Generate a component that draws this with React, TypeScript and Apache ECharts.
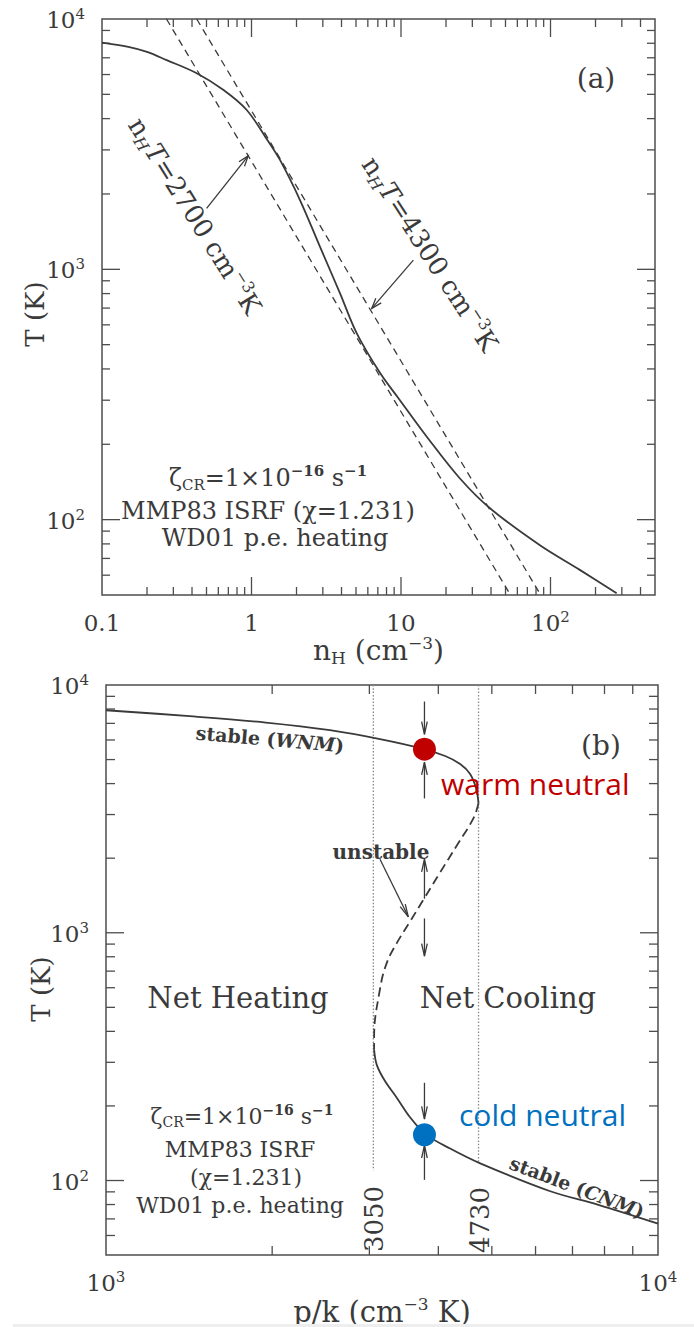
import React, { useEffect, useRef } from 'react';
import * as echarts from 'echarts';

const SERIF = 'DejaVu Serif';
const INK = '#3a3a3a';
const AXIS = '#4d4d4d';

// ---------------- Panel (a): T vs n_H ----------------
const curveA_n = [0.1, 0.15, 0.2, 0.271, 0.43, 0.65, 0.929, 1.25, 1.55, 2.11, 2.87, 3.91, 5.06, 7.25, 9.64, 15, 24.8, 39.4, 85, 157, 277];
const curveA_T = [8050, 7740, 7390, 6850, 6070, 5200, 4330, 3350, 2735, 1892, 1231, 802, 555, 385, 305, 213, 146, 111, 79, 63, 50.8];
const iso2700_n = [0.27, 54];
const iso2700_T = [10000, 50];
const iso4300_n = [0.43, 86];
const iso4300_T = [10000, 50];
// arrows: [x_tail, y_tail, x_head, y_head]
const arrowsA = [
  [0.501, 1753, 0.95, 2840],
  [12.1, 1089, 6.37, 698],
];
const xTickValsA = [0.1, 1, 10, 100];
const xTickTextsA = ['0.1', '1', '10', '10^2'];
const yTickVals = [100, 1000, 10000];
const yTickTexts = ['10^2', '10^3', '10^4'];

// ---------------- Panel (b): T vs p/k ----------------
const wnm_p = [1000, 1418, 1948, 2545, 3136, 3753, 4116, 4381, 4567, 4683, 4730];
const wnm_T = [7910, 7485, 7053, 6573, 6050, 5526, 5169, 4795, 4374, 3819, 3330];
const unst_p = [4730, 4632, 4321, 4030, 3758, 3555, 3363, 3226, 3136, 3060, 3060];
const unst_T = [3330, 2901, 2251, 1752, 1359, 1111, 908, 756, 593, 379, 337];
const cnm_p = [3060, 3094, 3202, 3363, 3555, 3795, 4201, 4763, 6381, 7798, 10000];
const cnm_T = [337, 293, 252, 216, 180, 153.5, 134.6, 117.3, 90.5, 79.8, 67];
const isobar_p = [3050, 4730];
const isobar_topT = [10000, 10000];
const isobar_botT = [110, 117];
const isobar_texts = ['3050', '4730'];
const phase_p = [3775, 3775];
const phase_T = [5510, 153];
const phase_colors = ['#c00000', '#0070c0'];
const arrowsB = [
  [3775, 8580, 3775, 6320],
  [3775, 3484, 3775, 4877],
  [3775, 1372, 3775, 1980],
  [3775, 1142, 3775, 804],
  [3775, 248, 3775, 177],
  [3775, 100.6, 3775, 138.7],
  [3136, 1980, 3529, 1160],
];
const xTickValsB = [1000, 10000];
const xTickTextsB = ['10^3', '10^4'];

// ---------------- helpers ----------------
const zip = (a: number[], b: number[]) => a.map((v, i) => [v, b[i]]);

const toRich = (t: string) => {
  const i = t.indexOf('^');
  if (i < 0) return `{b|${t}}`;
  return `{b|${t.slice(0, i)}}{s|${t.slice(i + 1)}}`;
};

const labelFmt = (vals: number[], texts: string[]) => (v: number) => {
  const lv = Math.log10(v);
  for (let i = 0; i < vals.length; i++) {
    if (Math.abs(Math.log10(vals[i]) - lv) < 1e-6) return toRich(texts[i]);
  }
  return '';
};

const axisRich = {
  b: { fontSize: 23, fontFamily: SERIF, color: INK, lineHeight: 25, verticalAlign: 'bottom' },
  s: { fontSize: 15, fontFamily: SERIF, color: INK, lineHeight: 15, verticalAlign: 'top' },
};

const nameRich = (s: number) => ({
  n: { fontSize: s, fontFamily: SERIF, color: INK, lineHeight: Math.round(s * 1.15) },
  sub: { fontSize: Math.round(s * 0.6), fontFamily: SERIF, color: INK, lineHeight: Math.round(s * 0.6), verticalAlign: 'bottom' },
  sup: { fontSize: Math.round(s * 0.6), fontFamily: SERIF, color: INK, lineHeight: Math.round(s * 0.6), verticalAlign: 'top' },
});

const minorsIn = (lo: number, hi: number) => {
  const out: number[] = [];
  for (let k = -2; k <= 5; k++) {
    for (let m = 2; m <= 9; m++) {
      const v = m * Math.pow(10, k);
      if (v > lo * 1.0001 && v < hi * 0.9999) out.push(v);
    }
  }
  return out;
};
const majorsIn = (lo: number, hi: number) => {
  const out: number[] = [];
  for (let k = -2; k <= 5; k++) {
    const v = Math.pow(10, k);
    if (v > lo * 1.0001 && v < hi * 0.9999) out.push(v);
  }
  return out;
};

const tickData = (xlo: number, xhi: number, ylo: number, yhi: number) => {
  const d: number[][] = [];
  minorsIn(xlo, xhi).forEach((v) => d.push([v, ylo, 0]));
  majorsIn(xlo, xhi).forEach((v) => d.push([v, ylo, 1]));
  minorsIn(ylo, yhi).forEach((v) => d.push([xlo, v, 2]));
  majorsIn(ylo, yhi).forEach((v) => d.push([xlo, v, 3]));
  return d;
};

const tickRender = (minorLen: number, majorLen: number) => (params: any, api: any) => {
  const cs = params.coordSys;
  const kind = api.value(2);
  const L = kind === 1 || kind === 3 ? majorLen : minorLen;
  const style = { stroke: AXIS, lineWidth: 1.3 };
  const pt = api.coord([api.value(0), api.value(1)]);
  if (kind < 2) {
    const px = pt[0];
    const b = cs.y + cs.height;
    return {
      type: 'group',
      children: [
        { type: 'line', shape: { x1: px, y1: b, x2: px, y2: b - L }, style },
        { type: 'line', shape: { x1: px, y1: cs.y, x2: px, y2: cs.y + L }, style },
      ],
    };
  }
  const py = pt[1];
  const r = cs.x + cs.width;
  return {
    type: 'group',
    children: [
      { type: 'line', shape: { x1: cs.x, y1: py, x2: cs.x + L, y2: py }, style },
      { type: 'line', shape: { x1: r, y1: py, x2: r - L, y2: py }, style },
    ],
  };
};

const arrowRender = (headLen: number, half: number) => (params: any, api: any) => {
  const a = api.coord([api.value(0), api.value(1)]);
  const b = api.coord([api.value(2), api.value(3)]);
  const ang = Math.atan2(b[1] - a[1], b[0] - a[0]);
  const h1 = [b[0] - headLen * Math.cos(ang - half), b[1] - headLen * Math.sin(ang - half)];
  const h2 = [b[0] - headLen * Math.cos(ang + half), b[1] - headLen * Math.sin(ang + half)];
  const style = { stroke: INK, lineWidth: 1.3, fill: 'none' };
  return {
    type: 'group',
    children: [
      { type: 'line', shape: { x1: a[0], y1: a[1], x2: b[0], y2: b[1] }, style },
      { type: 'polyline', shape: { points: [h1, b, h2] }, style },
    ],
  };
};

const tok = (size: number, extra: any = {}) => ({
  fontSize: size,
  fontFamily: SERIF,
  fill: INK,
  lineHeight: Math.round(size * 1.2),
  ...extra,
});
const supTok = (size: number, extra: any = {}) => tok(size, { lineHeight: size, verticalAlign: 'top', ...extra });
const subTok = (size: number, extra: any = {}) => tok(size, { lineHeight: size, verticalAlign: 'bottom', ...extra });

const gText = (x: number, y: number, text: string, size: number, opts: any = {}) => ({
  type: 'text',
  x,
  y,
  rotation: ((opts.rotDeg || 0) * Math.PI) / 180,
  z: 50,
  silent: true,
  style: {
    text,
    fontSize: size,
    fontFamily: opts.family || SERIF,
    fontWeight: opts.weight || 'normal',
    fill: opts.color || INK,
    align: opts.align || 'center',
    verticalAlign: 'middle',
    rich: opts.rich,
  },
});

const zetaRich = (s: number) => ({
  n: tok(s),
  sub: subTok(Math.round(s * 0.62)),
  sup: supTok(Math.round(s * 0.62), { fontWeight: 'bold' }),
});
const zetaText = '{n|ζ}{sub|CR}{n|=1×10}{sup|−16}{n| s}{sup|−1}';

const isoRich = {
  n: tok(26),
  sub: subTok(16, { fontStyle: 'italic' }),
  it: tok(26, { fontStyle: 'italic' }),
  sup: supTok(16),
};

const stableRich = {
  n: tok(19, { fontWeight: 'bold' }),
  it: tok(19, { fontWeight: 'bold', fontStyle: 'italic' }),
};

const xAxisBase = (gridIndex: number, min: number, max: number, vals: number[], texts: string[], name: string, ns: number) => ({
  type: 'log',
  logBase: 10,
  gridIndex,
  min,
  max,
  axisLine: { show: false },
  axisTick: { show: false },
  splitLine: { show: false },
  axisLabel: { formatter: labelFmt(vals, texts), rich: axisRich, margin: 14, showMinLabel: true, showMaxLabel: true },
  name,
  nameLocation: 'middle',
  nameGap: 31,
  nameTextStyle: { rich: nameRich(ns) },
});

const yAxisBase = (gridIndex: number) => ({
  type: 'log',
  logBase: 10,
  gridIndex,
  min: 50,
  max: 10000,
  axisLine: { show: false },
  axisTick: { show: false },
  splitLine: { show: false },
  axisLabel: { formatter: labelFmt(yTickVals, yTickTexts), rich: axisRich, margin: 17, showMinLabel: true, showMaxLabel: true },
});

const solid = { color: INK, width: 1.8 };

export default function App() {
  const ref = useRef<HTMLDivElement>(null);

  useEffect(() => {
    document.body.style.margin = '0';
    if (!ref.current) return;
    const chart = echarts.init(ref.current, undefined, { renderer: 'svg' });

    const option: any = {
      animation: false,
      backgroundColor: '#ffffff',
      textStyle: { fontFamily: SERIF, color: INK },
      grid: [
        { left: 102, top: 19, width: 553, height: 576, show: true, borderColor: AXIS, borderWidth: 1.5, backgroundColor: 'transparent' },
        { left: 106, top: 685, width: 552, height: 578, show: true, borderColor: AXIS, borderWidth: 1.5, backgroundColor: 'transparent' },
      ],
      xAxis: [
        xAxisBase(0, 0.1, 500, xTickValsA, xTickTextsA, '{n|n}{sub|H}{n| (cm}{sup|−3}{n|)}', 28),
        xAxisBase(1, 1000, 10000, xTickValsB, xTickTextsB, '{n|p/k (cm}{sup|−3}{n| K)}', 29),
      ],
      yAxis: [yAxisBase(0), yAxisBase(1)],
      series: [
        // ----- panel (a)
        {
          type: 'line', xAxisIndex: 0, yAxisIndex: 0, data: zip(curveA_n, curveA_T),
          showSymbol: false, smooth: 0.35, lineStyle: solid, silent: true, z: 5,
        },
        {
          type: 'line', xAxisIndex: 0, yAxisIndex: 0, data: zip(iso2700_n, iso2700_T),
          showSymbol: false, lineStyle: { color: INK, width: 1.3, type: [7, 5] }, silent: true,
        },
        {
          type: 'line', xAxisIndex: 0, yAxisIndex: 0, data: zip(iso4300_n, iso4300_T),
          showSymbol: false, lineStyle: { color: INK, width: 1.3, type: [7, 5] }, silent: true,
        },
        {
          type: 'custom', xAxisIndex: 0, yAxisIndex: 0, data: arrowsA,
          encode: { x: [0, 2], y: [1, 3] }, renderItem: arrowRender(11, 0.33), silent: true, clip: false,
        },
        {
          type: 'custom', xAxisIndex: 0, yAxisIndex: 0, data: tickData(0.1, 500, 50, 10000),
          encode: { x: 0, y: 1 }, renderItem: tickRender(8, 18), silent: true, clip: false,
        },
        // ----- panel (b)
        ...isobar_p.map((p, i) => ({
          type: 'line', xAxisIndex: 1, yAxisIndex: 1, data: [[p, isobar_topT[i]], [p, isobar_botT[i]]],
          showSymbol: false, silent: true, lineStyle: { color: '#8a8a8a', width: 1.3, type: [1.5, 1.8] },
        })),
        {
          type: 'line', xAxisIndex: 1, yAxisIndex: 1, data: zip(wnm_p, wnm_T),
          showSymbol: false, smooth: 0.35, lineStyle: solid, silent: true, z: 5,
        },
        {
          type: 'line', xAxisIndex: 1, yAxisIndex: 1, data: zip(unst_p, unst_T),
          showSymbol: false, smooth: 0.4, lineStyle: { color: INK, width: 1.8, type: [9, 5] }, silent: true, z: 5,
        },
        {
          type: 'line', xAxisIndex: 1, yAxisIndex: 1, data: zip(cnm_p, cnm_T),
          showSymbol: false, smooth: 0.35, lineStyle: solid, silent: true, z: 5,
        },
        {
          type: 'custom', xAxisIndex: 1, yAxisIndex: 1, data: arrowsB,
          encode: { x: [0, 2], y: [1, 3] }, renderItem: arrowRender(13, 0.22), silent: true, clip: false,
        },
        {
          type: 'custom', xAxisIndex: 1, yAxisIndex: 1, data: tickData(1000, 10000, 50, 10000),
          encode: { x: 0, y: 1 }, renderItem: tickRender(9, 18), silent: true, clip: false,
        },
        {
          type: 'scatter', xAxisIndex: 1, yAxisIndex: 1, symbolSize: 23, z: 20, silent: true,
          data: phase_p.map((p, i) => ({ value: [p, phase_T[i]], itemStyle: { color: phase_colors[i], opacity: 1 } })),
        },
      ],
      graphic: [
        // y-axis titles
        gText(35, 314, 'T (K)', 26, { rotDeg: 90 }),
        gText(41, 989, 'T (K)', 26, { rotDeg: 90 }),
        // panel (a)
        gText(596, 78, '(a)', 28),
        gText(195, 216, '{n|n}{sub|H}{it|T}{n|=2700 cm}{sup|−3}{n|K}', 26, { rotDeg: -58, rich: isoRich }),
        gText(430, 254, '{n|n}{sub|H}{it|T}{n|=4300 cm}{sup|−3}{n|K}', 26, { rotDeg: -57, rich: isoRich }),
        gText(268, 478, zetaText, 24, { rich: zetaRich(24) }),
        gText(268, 511, 'MMP83 ISRF (χ=1.231)', 24),
        gText(275, 538, 'WD01 p.e. heating', 24),
        // panel (b)
        gText(601, 745, '(b)', 28),
        gText(270, 739, '{n|stable (}{it|WNM}{n|)}', 19, { rotDeg: -5, rich: stableRich }),
        gText(577, 1187, '{n|stable (}{it|CNM}{n|)}', 19, { rotDeg: -20.7, rich: stableRich }),
        gText(381, 852, 'unstable', 20, { weight: 'bold' }),
        gText(441, 783, 'warm neutral', 30, { family: 'Open Sans', color: phase_colors[0], align: 'left' }),
        gText(459, 1114, 'cold neutral', 30, { family: 'Open Sans', color: phase_colors[1], align: 'left' }),
        gText(238, 998, 'Net Heating', 29),
        gText(508, 998, 'Net Cooling', 29),
        gText(242, 1116, zetaText, 22, { rich: zetaRich(22) }),
        gText(240, 1149, 'MMP83 ISRF', 22),
        gText(246, 1177, '(χ=1.231)', 22),
        gText(240, 1205, 'WD01 p.e. heating', 22),
        gText(374, 1219, isobar_texts[0], 26, { rotDeg: 90 }),
        gText(480, 1220, isobar_texts[1], 26, { rotDeg: 90 }),
        {
          type: 'rect', z: 1, silent: true,
          shape: { x: 13, y: 1324, width: 681, height: 3 },
          style: { fill: '#eeeeee' },
        },
      ],
    };

    chart.setOption(option);
    return () => chart.dispose();
  }, []);

  return (
    <div
      ref={ref}
      style={{ position: 'absolute', left: 0, top: 0, width: 694, height: 1327, background: '#fff' }}
    />
  );
}
